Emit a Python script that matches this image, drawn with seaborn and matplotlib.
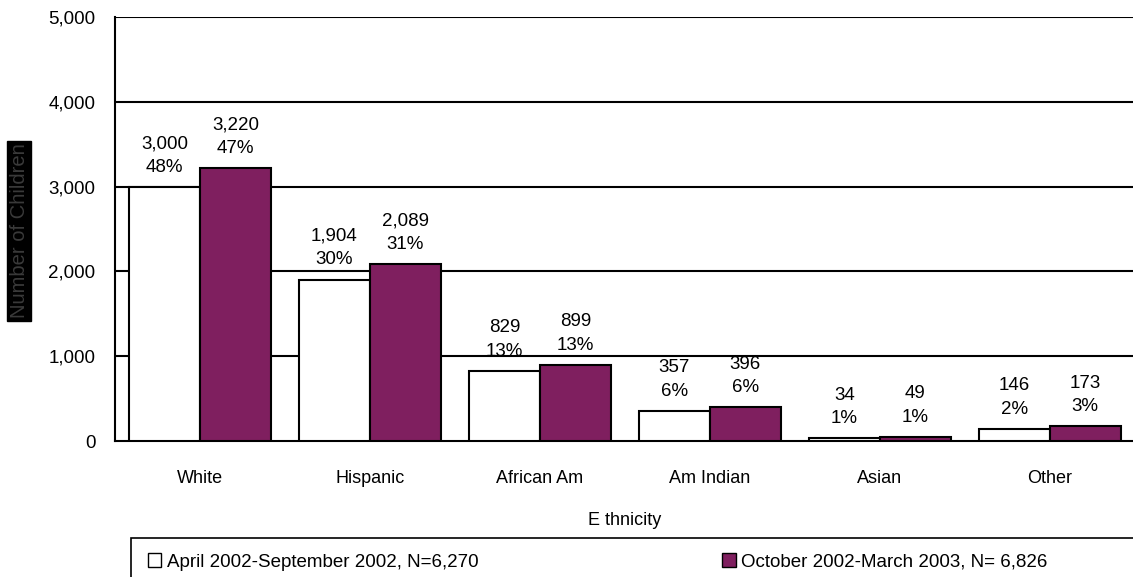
import matplotlib
matplotlib.use('Agg')
import matplotlib.pyplot as plt
import matplotlib.patches as mpatches
import numpy as np
import pandas as pd
import seaborn as sns

categories = ['White', 'Hispanic', 'African Am', 'Am Indian', 'Asian', 'Other']
period1 = 'April 2002-September 2002, N=6,270'
period2 = 'October 2002-March 2003, N= 6,826'
counts1 = [3000, 1904, 829, 357, 34, 146]
counts2 = [3220, 2089, 899, 396, 49, 173]
pct1 = ['48%', '30%', '13%', '6%', '1%', '2%']
pct2 = ['47%', '31%', '13%', '6%', '1%', '3%']
yticks = [0, 1000, 2000, 3000, 4000, 5000]

df = pd.DataFrame({
    'Ethnicity': categories * 2,
    'Period': [period1] * 6 + [period2] * 6,
    'Count': counts1 + counts2,
    'Pct': pct1 + pct2,
})

sns.set_style('white')
plt.rcParams['font.family'] = ['Liberation Sans', 'DejaVu Sans']
plt.rcParams['font.size'] = 13
plt.rcParams['text.color'] = 'black'
plt.rcParams['xtick.color'] = 'black'
plt.rcParams['ytick.color'] = 'black'
plt.rcParams['axes.labelcolor'] = 'black'

fig = plt.figure(figsize=(11.33, 5.77), dpi=100)
ax = fig.add_axes([0.1015, 0.2357, 0.9, 0.7348])

purple = '#7F1F5F'
sns.barplot(data=df, x='Ethnicity', y='Count', hue='Period',
            palette=['white', purple], edgecolor='black', linewidth=1.5,
            width=0.835, saturation=1, ax=ax, legend=False, zorder=3)

ax.set_ylim(0, 5000)
ax.set_xlim(-0.5, 5.5)
ax.set_yticks(yticks)
ax.set_yticklabels([f'{v:,}' for v in yticks])
for v in yticks[1:]:
    ax.axhline(v, color='black', lw=1.5, zorder=1)

for s in ['top', 'right']:
    ax.spines[s].set_visible(False)
for s in ['left', 'bottom']:
    ax.spines[s].set_color('black')
    ax.spines[s].set_linewidth(1.5)

ax.tick_params(axis='x', which='major', length=0, pad=21, labelsize=13)
ax.set_xticks(np.arange(0.5, 5.5, 1.0), minor=True)
ax.tick_params(axis='x', which='minor', length=6, width=1.2, direction='out', color='black')
ax.tick_params(axis='y', length=4, width=1.2, direction='out', color='black', pad=10, labelsize=13.5)
ax.set_xlabel('E thnicity', labelpad=18, fontsize=13)
ax.set_ylabel('')

# value labels
for container, cnts, pcts in zip(ax.containers, [counts1, counts2], [pct1, pct2]):
    for bar, c, p in zip(container, cnts, pcts):
        x = bar.get_x() + bar.get_width() / 2
        ax.annotate(f'{c:,}\n{p}', (x, bar.get_height()), xytext=(0, 8),
                    textcoords='offset points', ha='center', va='bottom',
                    linespacing=1.5, fontsize=13.5, zorder=5)

# odd boxed y label
fig.text(0.017, 0.60, 'Number of Children', rotation=90, ha='center', va='center',
         fontsize=14.5, color='#3a3a3a',
         bbox=dict(facecolor='black', edgecolor='black', boxstyle='square,pad=0.12'))

# legend box
fig.patches.append(mpatches.Rectangle((0.1156, -0.01), 0.9, 0.0776, transform=fig.transFigure,
                                      facecolor='white', edgecolor='black', lw=1.2))
handles = [mpatches.Patch(facecolor='white', edgecolor='black', label=period1),
           mpatches.Patch(facecolor=purple, edgecolor='black', label=period2)]
fig.legend(handles=handles, loc='center left', bbox_to_anchor=(0.116, 0.026), ncol=2,
           frameon=False, handlelength=0.7, handleheight=0.7, handletextpad=0.3,
           columnspacing=13.0, fontsize=13.5)

fig.savefig('out.png', dpi=100)
